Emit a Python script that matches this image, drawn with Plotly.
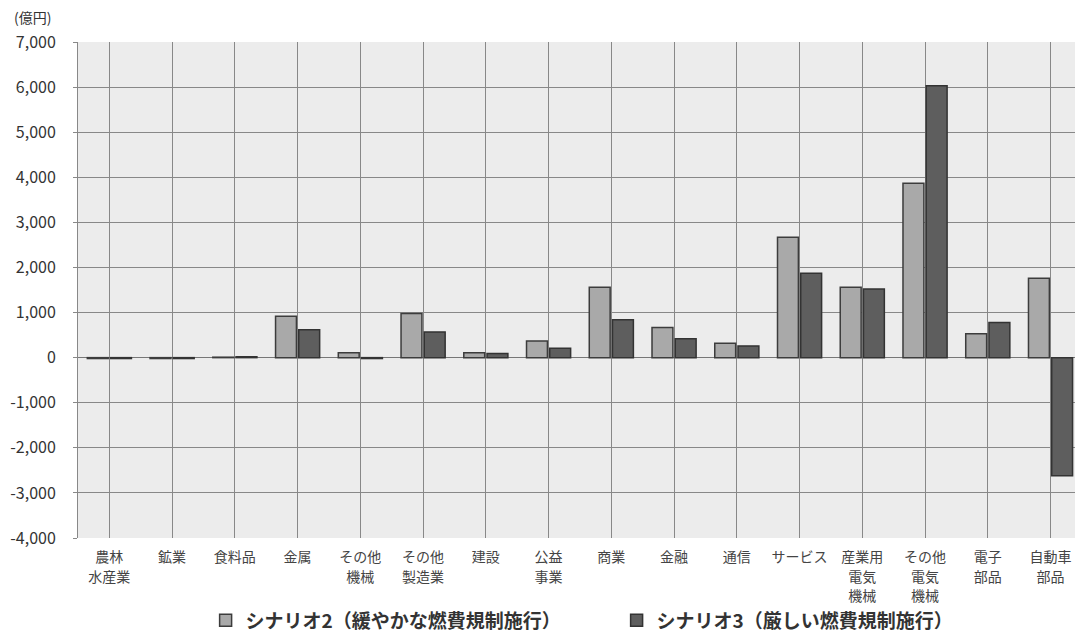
import plotly.graph_objects as go

# 産業別の影響額(億円)
categories = [
    "農林<br>水産業", "鉱業", "食料品", "金属", "その他<br>機械", "その他<br>製造業",
    "建設", "公益<br>事業", "商業", "金融", "通信", "サービス",
    "産業用<br>電気<br>機械", "その他<br>電気<br>機械", "電子<br>部品", "自動車<br>部品",
]
scenario2 = [-20, -20, 10, 920, 110, 980, 110, 370, 1560, 670, 320, 2670, 1560, 3870, 530, 1760]
scenario3 = [-20, -20, 20, 620, -20, 570, 90, 210, 840, 420, 260, 1870, 1520, 6030, 780, -2620]

y_ticks = [7000, 6000, 5000, 4000, 3000, 2000, 1000, 0, -1000, -2000, -3000, -4000]
y_tick_labels = ["7,000", "6,000", "5,000", "4,000", "3,000", "2,000", "1,000", "0",
                 "-1,000", "-2,000", "-3,000", "-4,000"]

name2 = "<b>シナリオ2（緩やかな燃費規制施行）</b>"
name3 = "<b>シナリオ3（厳しい燃費規制施行）</b>"

FONT = "Noto Sans CJK JP, Noto Sans, sans-serif"

# category labels: base font sets the line spacing, inner span sets the glyph size
cat_labels = [
    "<br>".join(f"<span style='font-size:14px'>{part}</span>" for part in c.split("<br>"))
    for c in categories
]
x_idx = list(range(len(categories)))

fig = go.Figure()
fig.add_trace(go.Bar(
    x=x_idx, y=scenario2, name=name2,
    marker=dict(color="#a9a9a9", line=dict(color="#3c3c3c", width=1.5)),
))
fig.add_trace(go.Bar(
    x=x_idx, y=scenario3, name=name3,
    marker=dict(color="#5e5e5e", line=dict(color="#333333", width=1.5)),
))

fig.update_layout(
    width=1075, height=635,
    margin=dict(l=78, r=0, t=42, b=97, autoexpand=False),
    paper_bgcolor="white",
    plot_bgcolor="#ececec",
    barmode="group",
    bargap=0.26,
    bargroupgap=0.1,
    font=dict(family=FONT, color="#333333"),
    showlegend=True,
    legend=dict(
        orientation="h",
        x=0.128, xanchor="left",
        y=-0.166, yanchor="middle",
        font=dict(size=19, color="#333333", family=FONT),
        entrywidth=366, entrywidthmode="pixels",
        itemwidth=30,
        bgcolor="rgba(0,0,0,0)",
    ),
    annotations=[dict(
        text="(億円)", xref="paper", yref="paper",
        x=-0.066, y=1.05, xanchor="left", yanchor="middle",
        showarrow=False, font=dict(size=14, color="#333333", family=FONT),
    )],
)

fig.update_xaxes(
    range=[-0.5, 15.39],
    tickmode="array", tickvals=x_idx, ticktext=cat_labels,
    tickson="boundaries",
    showgrid=True, gridcolor="#888888", gridwidth=1,
    ticks="", showline=False,
    tickfont=dict(size=15, color="#444444", family=FONT),
    ticklabelstandoff=8,
    automargin=False,
    fixedrange=True,
)
fig.update_yaxes(
    range=[-4000, 7000],
    tickmode="array", tickvals=y_ticks, ticktext=y_tick_labels,
    showgrid=True, gridcolor="#888888", gridwidth=1,
    zeroline=True, zerolinecolor="#777777", zerolinewidth=1,
    ticks="outside", ticklen=4, tickcolor="#888888",
    showline=True, linecolor="#888888", linewidth=1,
    tickfont=dict(size=16, color="#333333", family=FONT),
    ticklabelstandoff=14,
    automargin=False,
)

fig.write_html("out.html")
